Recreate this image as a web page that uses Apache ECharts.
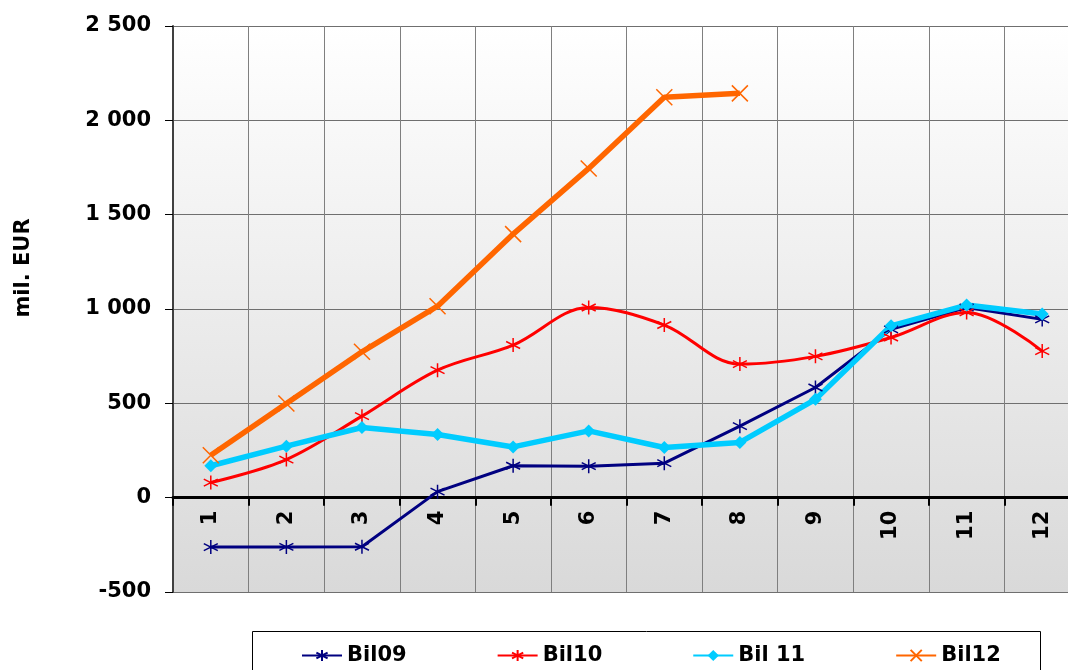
<!DOCTYPE html>
<html>
<head>
<meta charset="utf-8">
<script src="https://cdn.jsdelivr.net/npm/echarts@6/dist/echarts.min.js"></script>
<style>html,body{margin:0;padding:0;background:#fff}#c{width:1068px;height:670px}</style>
</head>
<body>
<div id="c"></div>
<script>
const categories = ['1','2','3','4','5','6','7','8','9','10','11','12'];
const bil09 = [-262, -261, -260, 32, 169, 167, 183, 379, 584, 892, 1008, 945];
const bil10 = [80, 202, 432, 676, 809, 1008, 915, 708, 749, 849, 982, 777];
const bil11 = [169, 273, 372, 335, 269, 354, 266, 293, 521, 911, 1021, 973];
const bil12 = [225, 499, 773, 1015, 1397, 1745, 2122, 2143];
const seriesNames = ['Bil09', 'Bil10', 'Bil 11', 'Bil12'];
const yMin = -500, yMax = 2500, yStep = 500;

const FONT = 'DejaVu Sans, Verdana, sans-serif';
const asterisk = 'path://M5,0L5,10M0.7,2.5L9.3,7.5M9.3,2.5L0.7,7.5';
const cross = 'path://M0,0L10,10M10,0L0,10';

function fmt(v) { return String(v).replace(/\B(?=(\d{3})+(?!\d))/g, ' '); }

const GRID_TOP = 26, GRID_H = 566;
// move the category axis up to the value-axis zero line
const zeroOffset = -GRID_H * (0 - yMin) / (yMax - yMin);

const chart = echarts.init(document.getElementById('c'), null, {renderer: 'canvas'});
chart.setOption({
  animation: false,
  backgroundColor: '#ffffff',
  textStyle: {fontFamily: FONT},
  grid: {
    left: 173, top: GRID_TOP, width: 907, height: GRID_H,
    outerBoundsMode: 'none',
    containLabel: false,
    show: true,
    borderWidth: 0,
    backgroundColor: new echarts.graphic.LinearGradient(0, 0, 0, 1, [
      {offset: 0, color: '#ffffff'},
      {offset: 1, color: '#d9d9d9'}
    ])
  },
  legend: {
    left: 296, top: 640,
    itemWidth: 40, itemHeight: 14, itemGap: 90,
    textStyle: {fontFamily: FONT, fontWeight: 'bold', fontSize: 21, color: '#000'},
    data: seriesNames
  },
  graphic: [
    {type: 'rect', left: 250, top: 629, z: 0, silent: true,
     shape: {width: 788, height: 60}, style: {fill: 'none', stroke: '#000', lineWidth: 1}},
    {type: 'text', x: 24, y: 268, rotation: Math.PI / 2, silent: true,
     style: {text: 'mil. EUR', font: 'bold 21px ' + FONT, fill: '#000', align: 'center', verticalAlign: 'middle'}}
  ],
  xAxis: {
    type: 'category',
    data: categories,
    boundaryGap: true,
    position: 'bottom',
    offset: zeroOffset,
    axisLine: {onZero: false, lineStyle: {color: '#000', width: 3}},
    axisTick: {show: true, length: 8, lineStyle: {color: '#000', width: 2}},
    axisLabel: {rotate: 90, margin: 13, fontSize: 21, fontWeight: 'bold', color: '#000', fontFamily: FONT},
    splitLine: {show: true, lineStyle: {color: '#7f7f7f', width: 1}}
  },
  yAxis: {
    type: 'value',
    min: yMin, max: yMax, interval: yStep,
    axisLine: {show: true, onZero: false, lineStyle: {color: '#404040', width: 2}},
    axisTick: {show: true, length: 8, lineStyle: {color: '#000', width: 1}},
    axisLabel: {margin: 22, fontSize: 21, fontWeight: 'bold', color: '#000', fontFamily: FONT, formatter: fmt},
    splitLine: {show: true, lineStyle: {color: '#6f6f6f', width: 1}}
  },
  series: [
    {name: seriesNames[0], type: 'line', data: bil09, symbol: asterisk, symbolSize: 14,
     lineStyle: {color: '#000080', width: 3},
     itemStyle: {color: '#000080', borderColor: '#000080', borderWidth: 1.5}},
    {name: seriesNames[1], type: 'line', data: bil10, smooth: 0.35, symbol: asterisk, symbolSize: 14,
     lineStyle: {color: '#ff0000', width: 3},
     itemStyle: {color: '#ff0000', borderColor: '#ff0000', borderWidth: 1.5}},
    {name: seriesNames[2], type: 'line', data: bil11, symbol: 'diamond', symbolSize: 13,
     lineStyle: {color: '#00ccff', width: 5.5},
     itemStyle: {color: '#00ccff'}},
    {name: seriesNames[3], type: 'line', data: bil12, symbol: cross, symbolSize: 16,
     lineStyle: {color: '#ff6600', width: 5.5},
     itemStyle: {color: '#ff6600', borderColor: '#ff6600', borderWidth: 1.5}}
  ]
});
</script>
</body>
</html>
